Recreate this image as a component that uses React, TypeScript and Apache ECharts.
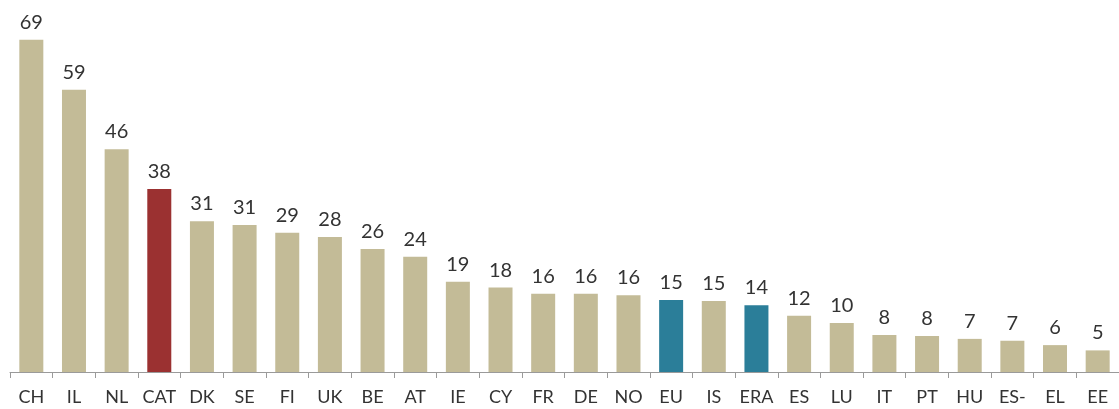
import React, { useEffect, useRef } from "react";
import * as echarts from "echarts";

const categories = ["CH","IL","NL","CAT","DK","SE","FI","UK","BE","AT","IE","CY","FR","DE","NO","EU","IS","ERA","ES","LU","IT","PT","HU","ES-","EL","EE"];
const values = [69.2,58.8,46.4,38.1,31.4,30.6,29.0,28.1,25.6,24.0,18.8,17.6,16.3,16.3,16.0,15.0,14.8,13.9,11.7,10.2,7.7,7.5,6.9,6.5,5.6,4.5];
const highlightRed = ["CAT"];
const highlightTeal = ["EU","ERA"];

const BEIGE = "#C3BB97";
const RED = "#9B3131";
const TEAL = "#2B7E99";

export default function App() {
  const ref = useRef<HTMLDivElement>(null);
  useEffect(() => {
    if (!ref.current) return;
    const chart = echarts.init(ref.current, undefined, { renderer: "svg" });
    chart.setOption({
      animation: false,
      grid: { left: 10, right: 0, top: 12, bottom: 37, containLabel: false },
      xAxis: {
        type: "category",
        data: categories,
        axisLine: { lineStyle: { color: "#9a9a9a", width: 1 } },
        axisTick: { show: true, length: 6, lineStyle: { color: "#9a9a9a" } },
        axisLabel: { color: "#333", fontSize: 18, lineHeight: 18, fontFamily: "Lato, 'Noto Sans', sans-serif", margin: 15, interval: 0 },
      },
      yAxis: { type: "value", min: 0, max: 75, show: false, splitLine: { show: false } },
      series: [
        {
          type: "bar",
          barWidth: 24,
          data: values.map((v, i) => ({
            value: v,
            itemStyle: {
              color: highlightRed.includes(categories[i]) ? RED : highlightTeal.includes(categories[i]) ? TEAL : BEIGE,
            },
          })),
          label: {
            show: true,
            position: "top",
            distance: 9,
            color: "#333",
            fontSize: 20,
            fontFamily: "Lato, 'Noto Sans', sans-serif",
            formatter: (p: any) => String(Math.round(p.value)),
          },
        },
      ],
    });
    return () => chart.dispose();
  }, []);
  return <div ref={ref} style={{ position: "fixed", left: 0, top: 0, width: 1119, height: 409 }} />;
}
